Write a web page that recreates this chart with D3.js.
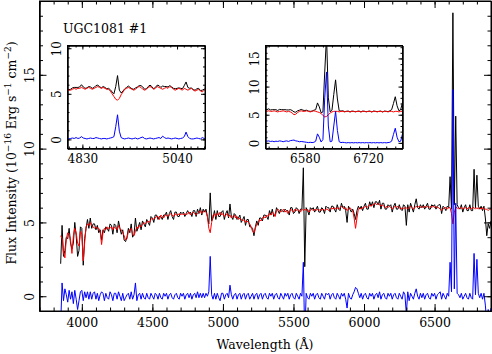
<!DOCTYPE html>
<html>
<head>
<meta charset="utf-8">
<script src="https://cdn.jsdelivr.net/npm/d3@7"></script>
<style>
  body { margin: 0; background: #fff; }
  svg text { font-family: "DejaVu Serif", serif; fill: #000; }
  .axis path, .axis line { stroke: #000; stroke-width: 1; }
</style>
</head>
<body>
<div id="plot"></div>
<script>
//////   DATA   //////
// main spectrum, regular grid in Angstrom
const mainStart = 3850, mainStep = 10

// observed flux (black)
const observed = [
  2.2, 4.8, 2.7, 3.1, 4.0, 3.9, 4.6, 3.6, 3.2, 3.6,
  5.0, 4.1, 2.7, 3.1, 4.7, 4.6, 2.1, 3.9, 4.6, 5.2,
  4.6, 5.3, 4.6, 4.9, 4.9, 4.5, 4.8, 4.3, 4.5, 3.8,
  4.5, 4.3, 4.7, 4.6, 4.4, 4.9, 4.8, 4.2, 4.9, 4.8,
  4.3, 5.1, 4.6, 4.2, 4.5, 3.8, 3.7, 4.0, 4.6, 4.3,
  4.9, 4.0, 4.2, 5.3, 4.4, 4.7, 5.0, 4.5, 5.1, 4.9,
  4.7, 5.2, 5.0, 4.8, 5.4, 5.3, 5.0, 5.5, 5.5, 5.2,
  5.4, 5.4, 5.2, 5.5, 5.5, 5.7, 5.2, 5.6, 5.8, 5.4,
  5.2, 5.7, 5.7, 5.4, 5.4, 5.7, 5.6, 5.7, 5.4, 5.6,
  5.8, 5.6, 5.7, 5.4, 5.8, 5.8, 5.4, 5.9, 5.6, 6.0,
  5.5, 5.9, 5.7, 5.9, 5.4, 4.9, 7.0, 5.1, 5.3, 5.8,
  5.2, 5.8, 5.4, 5.4, 5.7, 5.8, 5.2, 5.6, 5.8, 5.3,
  6.25, 5.4, 5.2, 5.6, 5.5, 5.2, 5.3, 5.5, 5.0, 5.2,
  5.4, 4.8, 5.2, 5.2, 4.7, 4.7, 4.6, 4.1, 4.7, 5.1,
  4.8, 5.3, 5.3, 5.1, 5.5, 5.5, 5.4, 5.2, 5.8, 5.5,
  5.9, 5.4, 5.5, 6.0, 5.8, 5.6, 5.9, 5.8, 5.7, 5.9,
  5.8, 5.8, 5.5, 6.0, 6.0, 5.6, 5.7, 6.0, 5.9, 5.6,
  5.9, 5.9, 8.7, 2.0, 6.0, 5.8, 5.5, 6.0, 5.9, 6.0,
  5.7, 5.9, 6.1, 5.7, 5.7, 6.0, 5.9, 5.6, 6.1, 6.0,
  6.0, 5.7, 6.1, 6.1, 5.9, 5.7, 6.2, 5.9, 5.8, 6.3,
  6.0, 6.1, 5.8, 5.0, 6.1, 5.9, 5.7, 5.9, 5.6, 5.2,
  5.8, 6.1, 5.9, 6.1, 5.8, 6.1, 6.3, 5.9, 5.9, 6.4,
  6.1, 6.4, 6.0, 6.4, 6.4, 6.2, 6.5, 5.9, 6.3, 6.3,
  5.9, 5.9, 6.2, 6.1, 6.2, 5.7, 6.1, 6.3, 5.9, 5.9,
  6.2, 5.9, 5.8, 6.2, 6.1, 4.8, 6.2, 5.7, 6.3, 6.0,
  5.7, 6.2, 6.6, 6.0, 5.9, 6.2, 6.0, 6.2, 5.9, 6.1,
  6.3, 5.9, 5.9, 6.2, 6.1, 6.2, 5.9, 6.1, 6.2, 6.2,
  5.6, 6.1, 6.0, 5.8, 6.1, 6.0, 8.1, 5.9, 19.2, 6.2,
  12.2, 6.2, 6.0, 5.9, 6.2, 5.7, 6.0, 6.2, 5.8, 5.8,
  6.2, 5.8, 5.8, 8.6, 6.0, 8.2, 6.1, 5.9, 6.1, 5.8,
  6.1, 5.3, 4.1, 4.9, 4.6, 5.1
]

// stellar population model (red)
const model = [
  4.1, 3.9, 3.0, 2.6, 3.9, 4.3, 4.2, 3.8, 2.9, 4.1,
  4.6, 4.3, 3.6, 3.4, 4.4, 4.2, 2.4, 3.6, 4.7, 4.9,
  4.8, 5.0, 4.8, 4.7, 4.6, 4.7, 4.6, 4.6, 4.4, 3.5,
  4.3, 4.6, 4.5, 4.7, 4.6, 4.6, 4.7, 4.5, 4.7, 4.6,
  4.5, 4.8, 4.6, 4.5, 4.3, 4.1, 3.8, 3.9, 4.4, 4.5,
  4.6, 4.2, 4.1, 4.4, 4.7, 4.6, 4.8, 4.7, 4.9, 5.0,
  4.9, 5.0, 5.1, 5.0, 5.2, 5.3, 5.2, 5.3, 5.4, 5.4,
  5.2, 5.5, 5.4, 5.3, 5.5, 5.5, 5.4, 5.5, 5.6, 5.5,
  5.4, 5.6, 5.5, 5.5, 5.6, 5.5, 5.6, 5.5, 5.6, 5.5,
  5.6, 5.7, 5.5, 5.6, 5.7, 5.6, 5.5, 5.6, 5.7, 5.8,
  5.6, 5.7, 5.8, 5.7, 5.4, 4.6, 4.3, 5.0, 5.5, 5.6,
  5.4, 5.6, 5.5, 5.7, 5.5, 5.6, 5.4, 5.5, 5.6, 5.4,
  5.5, 5.3, 5.4, 5.5, 5.3, 5.4, 5.2, 5.3, 5.2, 5.1,
  5.2, 5.0, 5.1, 5.0, 4.9, 4.7, 4.4, 4.3, 4.6, 4.9,
  5.0, 5.2, 5.1, 5.3, 5.4, 5.3, 5.5, 5.4, 5.6, 5.5,
  5.7, 5.6, 5.4, 5.8, 5.9, 5.8, 5.7, 5.8, 5.9, 5.7,
  5.8, 5.6, 5.7, 5.9, 5.8, 5.7, 5.9, 5.8, 5.9, 5.8,
  5.7, 5.9, 5.8, 5.9, 5.8, 5.9, 5.7, 5.8, 5.9, 5.8,
  5.9, 5.8, 5.9, 5.8, 5.9, 5.8, 5.9, 5.8, 5.9, 5.9,
  5.8, 5.9, 6.0, 5.9, 6.0, 5.9, 6.0, 5.9, 6.0, 6.1,
  6.0, 5.9, 6.0, 5.8, 5.9, 6.0, 5.9, 5.8, 5.3, 4.6,
  5.3, 5.9, 6.0, 5.9, 6.0, 6.0, 6.1, 6.0, 6.1, 6.2,
  6.1, 6.2, 6.2, 6.3, 6.2, 6.3, 6.2, 6.1, 6.2, 6.1,
  6.0, 6.1, 6.0, 6.1, 6.0, 5.9, 6.0, 6.1, 6.0, 6.1,
  6.0, 5.9, 6.0, 5.9, 6.0, 6.0, 5.9, 6.0, 6.1, 6.0,
  5.9, 6.0, 6.1, 6.0, 6.1, 6.0, 6.1, 6.0, 6.1, 6.0,
  6.1, 6.0, 6.1, 6.0, 6.1, 6.0, 6.1, 6.0, 6.0, 5.9,
  5.8, 5.9, 6.0, 6.0, 5.9, 6.0, 6.0, 5.6, 4.9, 5.7,
  6.0, 6.0, 5.9, 6.0, 6.0, 5.9, 6.0, 6.0, 5.9, 6.0,
  6.0, 5.9, 6.0, 6.0, 5.9, 6.0, 5.9, 6.0, 5.9, 6.0,
  5.9, 5.9, 5.9, 5.8, 5.9, 5.9
]

// residual = observed - model (blue)
const residual = [
  -1.9, 0.9, -0.3, 0.5, 0.1, -0.4, 0.4, -0.2, 0.3, -0.5,
  0.4, -0.2, -0.9, -0.3, 0.3, 0.4, -0.3, 0.3, -0.1, 0.3,
  -0.2, 0.3, -0.2, 0.2, 0.3, -0.2, 0.2, -0.3, 0.1, 0.3,
  0.2, -0.3, 0.2, -0.1, -0.2, 0.3, 0.1, -0.3, 0.2, 0.2,
  -0.2, 0.3, 0.0, -0.3, 0.2, -0.3, -0.1, 0.1, 0.2, -0.2,
  0.3, -0.2, 0.1, 0.9, -0.3, 0.1, 0.2, -0.2, 0.2, -0.1,
  -0.2, 0.2, -0.1, -0.2, 0.2, 0.0, -0.2, 0.2, 0.1, -0.2,
  0.2, -0.1, -0.2, 0.2, 0.0, 0.2, -0.2, 0.1, 0.2, -0.1,
  -0.2, 0.1, 0.2, -0.1, -0.2, 0.2, 0.0, 0.2, -0.2, 0.1,
  0.2, -0.1, 0.2, -0.2, 0.1, 0.2, -0.1, 0.3, -0.1, 0.2,
  -0.1, 0.2, -0.1, 0.2, 0.0, 0.3, 2.7, 0.1, -0.2, 0.2,
  -0.2, 0.2, -0.1, -0.3, 0.2, 0.2, -0.2, 0.1, 0.2, -0.1,
  0.75, 0.1, -0.2, 0.1, 0.2, -0.2, 0.1, 0.2, -0.2, 0.1,
  0.2, -0.2, 0.1, 0.2, -0.2, 0.0, 0.2, -0.2, 0.1, 0.2,
  -0.2, 0.1, 0.2, -0.2, 0.1, 0.2, -0.1, -0.2, 0.2, 0.0,
  0.2, -0.2, 0.1, 0.2, -0.1, -0.2, 0.2, 0.0, -0.2, 0.2,
  0.0, 0.2, -0.2, 0.1, 0.2, -0.1, -0.2, 0.2, 0.0, -0.2,
  0.2, 0.0, 2.3, -3.0, 0.2, -0.1, -0.2, 0.2, 0.0, 0.2,
  -0.2, 0.1, 0.2, -0.1, -0.2, 0.2, 0.0, -0.2, 0.2, 0.1,
  0.2, -0.2, 0.1, 0.2, -0.1, -0.2, 0.2, 0.0, -0.2, 0.2,
  0.0, 0.2, -0.2, -0.8, 0.2, -0.1, -0.2, 0.1, 0.3, 0.6,
  0.5, 0.2, -0.1, 0.2, -0.2, 0.1, 0.2, -0.1, -0.2, 0.2,
  0.0, 0.2, -0.2, 0.1, 0.2, -0.1, 0.3, -0.2, 0.1, 0.2,
  -0.1, -0.2, 0.2, 0.0, 0.2, -0.2, 0.1, 0.2, -0.1, -0.2,
  0.2, 0.0, -0.2, 0.3, 0.1, -1.2, 0.3, -0.3, 0.2, 0.0,
  -0.2, 0.2, 0.5, 0.0, -0.2, 0.2, -0.1, 0.2, -0.2, 0.1,
  0.2, -0.1, -0.2, 0.2, 0.0, 0.2, -0.2, 0.1, 0.2, 0.3,
  -0.2, 0.2, 0.0, -0.2, 0.2, 0.0, 2.3, 0.3, 14.0, 0.5,
  6.3, 0.2, 0.1, -0.1, 0.2, -0.2, 0.0, 0.2, -0.1, -0.2,
  0.2, -0.1, -0.2, 2.9, 0.1, 2.5, 0.2, -0.1, 0.2, -0.2,
  0.2, -0.6, -1.8, -0.9, -1.3, -0.8
]

// H-beta zoom, 4 A grid
const hbStart = 4796, hbStep = 4
const hbObserved = [
  5.6, 5.45, 5.5, 5.65, 5.7, 5.7, 5.7, 5.75, 6.0, 5.75,
  5.6, 5.65, 5.8, 5.75, 5.6, 5.7, 5.9, 5.95, 5.8, 5.65,
  5.8, 5.7, 5.55, 5.6, 5.45, 5.2, 5.0, 5.8, 7.0, 5.4,
  5.1, 5.3, 5.55, 5.7, 5.85, 5.7, 5.55, 5.5, 5.65, 5.75,
  5.9, 5.9, 5.75, 5.5, 5.55, 5.8, 5.95, 5.8, 5.55, 5.7,
  5.95, 5.9, 5.7, 5.85, 5.8, 5.8, 5.75, 5.9, 5.75, 5.6,
  5.55, 5.6, 5.65, 5.6, 5.55, 5.9, 6.3, 5.7, 5.6, 5.65,
  5.45, 5.4, 5.55, 5.6, 5.35, 5.4, 5.5, 5.55
]
const hbModel = [
  5.5, 5.4, 5.4, 5.5, 5.6, 5.5, 5.6, 5.6, 5.7, 5.6,
  5.5, 5.6, 5.7, 5.6, 5.5, 5.6, 5.7, 5.8, 5.7, 5.6,
  5.7, 5.6, 5.5, 5.5, 5.3, 5.0, 4.7, 4.4, 4.3, 4.5,
  4.9, 5.2, 5.5, 5.6, 5.7, 5.6, 5.5, 5.4, 5.5, 5.7,
  5.8, 5.7, 5.5, 5.4, 5.5, 5.7, 5.8, 5.7, 5.5, 5.6,
  5.8, 5.7, 5.6, 5.5, 5.6, 5.7, 5.6, 5.8, 5.7, 5.5,
  5.4, 5.5, 5.6, 5.5, 5.4, 5.6, 5.5, 5.4, 5.5, 5.6,
  5.4, 5.3, 5.4, 5.5, 5.3, 5.2, 5.4, 5.5
]
const hbResidual = [
  0.1, 0.05, 0.1, 0.15, 0.1, 0.2, 0.1, 0.15, 0.3, 0.15,
  0.1, 0.05, 0.1, 0.15, 0.1, 0.1, 0.2, 0.15, 0.1, 0.05,
  0.1, 0.1, 0.05, 0.1, 0.15, 0.2, 0.3, 1.4, 2.7, 0.9,
  0.2, 0.1, 0.05, 0.1, 0.15, 0.1, 0.05, 0.1, 0.15, 0.05,
  0.1, 0.2, 0.25, 0.1, 0.05, 0.1, 0.15, 0.1, 0.05, 0.1,
  0.15, 0.2, 0.1, 0.35, 0.2, 0.1, 0.15, 0.1, 0.05, 0.1,
  0.15, 0.1, 0.05, 0.1, 0.15, 0.3, 0.8, 0.3, 0.1, 0.05,
  0.05, 0.1, 0.15, 0.1, 0.05, 0.2, 0.1, 0.05
]

// H-alpha + [NII] + [SII] zoom, 4 A grid
const haStart = 6492, haStep = 4
const haObserved = [
  6.1, 5.9, 6.05, 5.85, 5.9, 5.9, 5.9, 5.75, 5.95, 5.9,
  5.9, 5.9, 5.85, 5.85, 5.9, 5.75, 5.5, 5.45, 5.7, 5.8,
  5.95, 5.8, 5.75, 5.8, 5.65, 5.6, 5.65, 5.8, 5.9, 7.1,
  6.4, 5.35, 5.5, 12.6, 19.0, 8.0, 5.5, 5.8, 8.6, 11.2,
  7.8, 5.7, 5.65, 5.7, 5.55, 5.6, 5.65, 5.5, 5.65, 5.6,
  5.55, 5.6, 5.65, 5.5, 5.65, 5.6, 5.55, 5.6, 5.65, 5.5,
  5.65, 5.6, 5.55, 5.6, 5.65, 5.5, 5.65, 5.6, 5.55, 5.7,
  5.9, 7.0, 8.2, 6.6, 5.7, 5.9, 7.2, 7.9
]
const haModel = [
  5.7, 5.6, 5.7, 5.6, 5.6, 5.7, 5.6, 5.5, 5.6, 5.6,
  5.7, 5.6, 5.5, 5.6, 5.5, 5.3, 5.0, 5.1, 5.4, 5.6,
  5.7, 5.6, 5.6, 5.7, 5.6, 5.5, 5.6, 5.7, 5.6, 5.5,
  5.4, 5.2, 4.9, 4.6, 4.7, 5.0, 5.3, 5.5, 5.6, 5.6,
  5.6, 5.5, 5.6, 5.6, 5.5, 5.6, 5.6, 5.5, 5.6, 5.6,
  5.5, 5.6, 5.6, 5.5, 5.6, 5.6, 5.5, 5.6, 5.6, 5.5,
  5.6, 5.6, 5.5, 5.6, 5.6, 5.5, 5.6, 5.6, 5.5, 5.6,
  5.6, 5.5, 5.6, 5.6, 5.5, 5.6, 5.6, 5.5
]
const haResidual = [
  0.4, 0.3, 0.35, 0.25, 0.3, 0.2, 0.3, 0.25, 0.35, 0.3,
  0.2, 0.3, 0.35, 0.25, 0.4, 0.45, 0.5, 0.35, 0.3, 0.2,
  0.25, 0.2, 0.15, 0.1, 0.05, 0.1, 0.05, 0.1, 0.3, 1.6,
  1.0, 0.15, 0.6, 8.0, 12.6, 3.0, 0.2, 0.3, 3.0, 5.6,
  2.2, 0.2, 0.05, 0.1, 0.05, 0.0, 0.05, 0.0, 0.05, 0.0,
  0.05, 0.0, 0.05, 0.0, 0.05, 0.0, 0.05, 0.0, 0.05, 0.0,
  0.05, 0.0, 0.05, 0.0, 0.05, 0.0, 0.05, 0.0, 0.05, 0.1,
  0.3, 1.5, 2.6, 1.0, 0.2, 0.3, 1.6, 2.4
]

// tick values
const mainXTicks = [4000, 4500, 5000, 5500, 6000, 6500]
const mainYTicks = [0, 5, 10, 15]
const hbXTicks = [4830, 5040]
const hbYTicks = [0, 5, 10]
const haXTicks = [6580, 6720]
const haYTicks = [0, 5, 10, 15]

const title = 'UGC1081 #1'

//////   SVG   //////
const width = 492, height = 354
const svg = d3.select('#plot').append('svg')
    .attr('width', width)
    .attr('height', height)

let toPoints = (start, step, values) => values.map((v, i) => [start + i * step, v])

// draw one framed panel with inward ticks on all four sides
let drawPanel = p => {
    const x = d3.scaleLinear().domain(p.xDomain).range([p.left, p.right])
    const y = d3.scaleLinear().domain(p.yDomain).range([p.bottom, p.top])

    if (p.background) {
        svg.append('rect')
            .attr('x', p.left).attr('y', p.top)
            .attr('width', p.right - p.left).attr('height', p.bottom - p.top)
            .attr('fill', '#fff')
    }

    svg.append('clipPath').attr('id', 'clip-' + p.name)
      .append('rect')
        .attr('x', p.left).attr('y', p.top)
        .attr('width', p.right - p.left).attr('height', p.bottom - p.top)

    const g = svg.append('g').attr('clip-path', 'url(#clip-' + p.name + ')')
    let line = d3.line().x(d => x(d[0])).y(d => y(d[1]))
    p.series.forEach(s => {
        g.append('path')
            .datum(toPoints(p.start, p.step, s.values))
            .attr('fill', 'none')
            .attr('stroke', s.color)
            .attr('stroke-width', 1)
            .attr('stroke-linejoin', 'round')
            .attr('d', line)
    })

    const xMinor = d3.range(p.xMinorFrom, p.xDomain[1], p.xMinorStep)
    const yMinor = d3.range(Math.ceil(p.yDomain[0]), p.yDomain[1], 1)

    // minor ticks
    svg.append('g').attr('class', 'axis').attr('transform', 'translate(0,' + p.bottom + ')')
        .call(d3.axisBottom(x).tickValues(xMinor).tickSize(-p.minor).tickSizeOuter(0).tickFormat(''))
    svg.append('g').attr('class', 'axis').attr('transform', 'translate(0,' + p.top + ')')
        .call(d3.axisTop(x).tickValues(xMinor).tickSize(-p.minor).tickSizeOuter(0).tickFormat(''))
    svg.append('g').attr('class', 'axis').attr('transform', 'translate(' + p.left + ',0)')
        .call(d3.axisLeft(y).tickValues(yMinor).tickSize(-p.minor).tickSizeOuter(0).tickFormat(''))
    svg.append('g').attr('class', 'axis').attr('transform', 'translate(' + p.right + ',0)')
        .call(d3.axisRight(y).tickValues(yMinor).tickSize(-p.minor).tickSizeOuter(0).tickFormat(''))

    // major ticks + labels
    svg.append('g').attr('class', 'axis').attr('transform', 'translate(0,' + p.bottom + ')')
        .call(d3.axisBottom(x).tickValues(p.xTicks).tickSize(-p.major).tickSizeOuter(0)
            .tickPadding(p.xPad).tickFormat(d3.format('d')))
        .selectAll('text').attr('font-size', p.fontSize)
    svg.append('g').attr('class', 'axis').attr('transform', 'translate(0,' + p.top + ')')
        .call(d3.axisTop(x).tickValues(p.xTicks).tickSize(-p.major).tickSizeOuter(0).tickFormat(''))
    svg.append('g').attr('class', 'axis').attr('transform', 'translate(' + p.right + ',0)')
        .call(d3.axisRight(y).tickValues(p.yTicks).tickSize(-p.major).tickSizeOuter(0).tickFormat(''))
    svg.append('g').attr('class', 'axis').attr('transform', 'translate(' + p.left + ',0)')
        .call(d3.axisLeft(y).tickValues(p.yTicks).tickSize(-p.major).tickSizeOuter(0).tickFormat(d3.format('d')))
        .selectAll('text')
        .attr('font-size', p.fontSize)
        .attr('x', null).attr('dy', null)
        .attr('text-anchor', 'middle')
        .attr('transform', 'translate(' + (-p.yPad) + ',0) rotate(-90)')

    // frame
    svg.append('rect')
        .attr('x', p.left).attr('y', p.top)
        .attr('width', p.right - p.left).attr('height', p.bottom - p.top)
        .attr('fill', 'none').attr('stroke', '#000').attr('stroke-width', 1)
}

// main panel
drawPanel({
    name: 'main', left: 39.5, right: 491, top: 1, bottom: 311,
    xDomain: [3700, 6900], yDomain: [-1, 20],
    start: mainStart, step: mainStep,
    series: [
        {values: observed, color: '#000'},
        {values: model, color: '#ff0000'},
        {values: residual, color: '#0000ff'}
    ],
    xTicks: mainXTicks, yTicks: mainYTicks, xMinorFrom: 3700, xMinorStep: 100,
    major: 7, minor: 3.5, fontSize: 12.5, xPad: 7, yPad: 6
})

// H-beta inset
drawPanel({
    name: 'hb', left: 67.5, right: 205, top: 45.5, bottom: 148.5, background: true,
    xDomain: [4797, 5102], yDomain: [-1, 10.3],
    start: hbStart, step: hbStep,
    series: [
        {values: hbObserved, color: '#000'},
        {values: hbModel, color: '#ff0000'},
        {values: hbResidual, color: '#0000ff'}
    ],
    xTicks: hbXTicks, yTicks: hbYTicks, xMinorFrom: 4800, xMinorStep: 15,
    major: 4, minor: 2, fontSize: 12, xPad: 6, yPad: 7
})

// H-alpha inset
drawPanel({
    name: 'ha', left: 265.5, right: 402.5, top: 45.5, bottom: 148.5, background: true,
    xDomain: [6493, 6796], yDomain: [-1, 17.3],
    start: haStart, step: haStep,
    series: [
        {values: haObserved, color: '#000'},
        {values: haModel, color: '#ff0000'},
        {values: haResidual, color: '#0000ff'}
    ],
    xTicks: haXTicks, yTicks: haYTicks, xMinorFrom: 6500, xMinorStep: 20,
    major: 4, minor: 2, fontSize: 12, xPad: 6, yPad: 7
})

// Labels
svg.append('text')
    .attr('x', 63).attr('y', 33)
    .attr('font-size', 12.5)
    .text(title)

svg.append('text')
    .attr('x', 265).attr('y', 349)
    .attr('text-anchor', 'middle')
    .attr('font-size', 12.5)
    .text('Wavelength (Å)')

let ylab = svg.append('text')
    .attr('transform', 'translate(16,153) rotate(-90)')
    .attr('text-anchor', 'middle')
    .attr('font-size', 12.5)
ylab.append('tspan').text('Flux Intensity (10')
ylab.append('tspan').attr('dy', -5).attr('font-size', 9).text('−16')
ylab.append('tspan').attr('dy', 5).text(' Erg s')
ylab.append('tspan').attr('dy', -5).attr('font-size', 9).text('−1')
ylab.append('tspan').attr('dy', 5).text(' cm')
ylab.append('tspan').attr('dy', -5).attr('font-size', 9).text('−2')
ylab.append('tspan').attr('dy', 5).text(')')
</script>
</body>
</html>
